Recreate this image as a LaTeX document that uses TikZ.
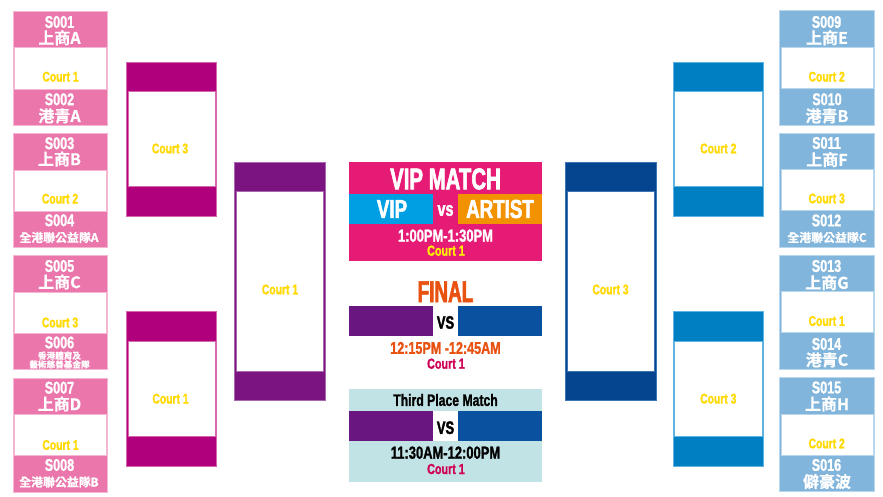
\documentclass[tikz,border=0pt]{standalone}
\usepackage{fontspec}
\setmainfont{Liberation Sans}
\newfontfamily\cond[FakeStretch=0.74,FakeBold=1.2]{Liberation Sans Bold}
\newfontfamily\condb[FakeStretch=0.72,FakeBold=2]{Liberation Sans Bold}
\newfontfamily\condvip[FakeStretch=0.68,FakeBold=2]{Liberation Sans Bold}
\newfontfamily\condfin[FakeStretch=0.63,FakeBold=2]{Liberation Sans Bold}
\newfontfamily\cjk[FakeBold=0.6]{Noto Sans CJK TC Bold}
\definecolor{pinkbox}{HTML}{EA76AB}
\definecolor{pinkedge}{HTML}{F4B6D2}
\definecolor{skybox}{HTML}{82B5DC}
\definecolor{skyedge}{HTML}{B8D6EC}
\definecolor{magbox}{HTML}{B0007B}
\definecolor{magedge}{HTML}{D565AE}
\definecolor{azbox}{HTML}{0080C3}
\definecolor{azedge}{HTML}{5DB3E2}
\definecolor{purbox}{HTML}{7B1480}
\definecolor{puredge}{HTML}{A768AE}
\definecolor{navbox}{HTML}{05458F}
\definecolor{navedge}{HTML}{3C74B4}
\definecolor{vippink}{HTML}{E61B75}
\definecolor{vipblue}{HTML}{009FE3}
\definecolor{viporange}{HTML}{F39200}
\definecolor{finpur}{HTML}{6A1680}
\definecolor{finblue}{HTML}{0A52A0}
\definecolor{teal}{HTML}{C2E3E6}
\definecolor{courty}{HTML}{FFD900}
\definecolor{redor}{HTML}{E8510F}
\definecolor{crim}{HTML}{CF0055}
\tikzset{
  txt/.style={inner sep=0pt,outer sep=0pt,anchor=center,align=center},
  code/.style={txt,text=white,font=\cond\fontsize{17}{17}\selectfont},
  team/.style={txt,text=white,font=\cjk\fontsize{16}{16}\selectfont},
  teamsm/.style={txt,text=white,font=\cjk\fontsize{11.9}{11.9}\selectfont},
  teamxs/.style={txt,text=white,font=\cjk\fontsize{8.6}{8.8}\selectfont},
  court/.style={txt,text=courty,font=\cond\fontsize{14}{14}\selectfont},
  big/.style={txt,font=\condvip\fontsize{30}{30}\selectfont},
  mid/.style={txt,font=\condb\fontsize{26}{26}\selectfont},
  versus/.style={txt,font=\condb\fontsize{18}{18}\selectfont},
  timing/.style={txt,font=\cond\fontsize{17.5}{17.5}\selectfont},
  cname/.style={txt,font=\cond\fontsize{14.5}{14.5}\selectfont},
}
% x1 y1 x2 y2 white-top white-bottom fill edge
\newcommand{\bracketbox}[8]{%
  \fill[#7] (#1,#2) rectangle (#3,#4);
  \draw[#8,line width=0.8pt] (#1,#2) rectangle (#3,#4);
  \path[fill=white,draw=#8,line width=0.8pt] ({#1+1.4},#5) rectangle ({#3-1.4},#6);
}
\begin{document}
\begin{tikzpicture}[x=1pt,y=-1pt]
\useasboundingbox (0,0) rectangle (883,496);
\fill[white] (0,0) rectangle (883,496);
% first round, left
\bracketbox{13}{11}{107.7}{125}{47.5}{89}{pinkbox}{pinkedge}
\bracketbox{13}{133.5}{107.7}{247.5}{170}{211}{pinkbox}{pinkedge}
\bracketbox{13}{255.7}{107.7}{369.7}{292}{333.7}{pinkbox}{pinkedge}
\bracketbox{13}{378}{107.7}{492}{414.7}{455.7}{pinkbox}{pinkedge}
% first round, right
\bracketbox{779.5}{10.7}{874.7}{125}{47}{88}{skybox}{skyedge}
\bracketbox{779.5}{133}{874.7}{247}{169.5}{210.5}{skybox}{skyedge}
\bracketbox{779.5}{255.3}{874.7}{369.5}{291.7}{332.7}{skybox}{skyedge}
\bracketbox{779.5}{377.5}{874.7}{491.5}{414}{455}{skybox}{skyedge}
% second round
\bracketbox{126.7}{62}{216.5}{216}{91.5}{186.5}{magbox}{magedge}
\bracketbox{126.7}{311.7}{216.5}{466}{341.5}{436.5}{magbox}{magedge}
\bracketbox{673}{62}{763.3}{216}{91.5}{186.5}{azbox}{azedge}
\bracketbox{673}{311.7}{763.3}{466}{341.5}{436.5}{azbox}{azedge}
% third round
\bracketbox{234.7}{162}{325}{400.5}{191.5}{371.5}{purbox}{puredge}
\bracketbox{565.5}{162}{656}{400.5}{191.5}{371.5}{navbox}{navedge}
% centre panels
\fill[vippink] (349.3,161.7) rectangle (542,261);
\fill[vipblue] (349.3,194) rectangle (433,224);
\fill[viporange] (458,194) rectangle (542,224);
\fill[finpur] (349.3,306) rectangle (433.3,336);
\fill[finblue] (458,306) rectangle (542,336);
\fill[teal] (349.3,388.5) rectangle (542,481.5);
\fill[white] (433.3,411) rectangle (458,441);
\fill[finpur] (349.3,411) rectangle (433.3,441);
\fill[finblue] (458,411) rectangle (542,441);
% left texts
\node[code] (s1) at (59.5,22) {S001};
\node[team] (t1) at (59.5,37.7) {上商A};
\node[court] (c1) at (60.5,76.7) {Court 1};
\node[code] (s2) at (59.5,99.3) {S002};
\node[team] (t2) at (59.5,116) {港青A};
\node[code] (s3) at (59.5,143.3) {S003};
\node[team] (t3) at (59.5,159) {上商B};
\node[court] (c2) at (60,198.7) {Court 2};
\node[code] (s4) at (59.5,220.3) {S004};
\node[teamsm] (t4) at (59,237.5) {全港聯公益隊A};
\node[code] (s5) at (59.5,266) {S005};
\node[team] (t5) at (59.5,282) {上商C};
\node[court] (c3) at (60,322.5) {Court 3};
\node[code] (s6) at (59.5,342.5) {S006};
\node[teamxs] (t6) at (59.5,360) {香港體育及\\藝術慈善基金隊};
\node[code] (s7) at (59.5,387.7) {S007};
\node[team] (t7) at (59.5,404) {上商D};
\node[court] (c4) at (60.5,445) {Court 1};
\node[code] (s8) at (59.5,465) {S008};
\node[teamsm] (t8) at (59,482) {全港聯公益隊B};
% right texts
\node[code] (s9) at (826.5,22) {S009};
\node[team] (t9) at (827,37.7) {上商E};
\node[court] (c5) at (826.7,76.7) {Court 2};
\node[code] (s10) at (827,99.3) {S010};
\node[team] (t10) at (827,116) {港青B};
\node[code] (s11) at (826.5,143) {S011};
\node[team] (t11) at (827,159.6) {上商F};
\node[court] (c6) at (826.7,198.5) {Court 3};
\node[code] (s12) at (826.5,220.5) {S012};
\node[teamsm] (t12) at (827,237.5) {全港聯公益隊C};
\node[code] (s13) at (826.5,266) {S013};
\node[team] (t13) at (827,282.6) {上商G};
\node[court] (c7) at (826.7,321) {Court 1};
\node[code] (s14) at (826.5,344) {S014};
\node[team] (t14) at (827,360) {港青C};
\node[code] (s15) at (826.5,387.5) {S015};
\node[team] (t15) at (827,404) {上商H};
\node[court] (c8) at (826.7,443.5) {Court 2};
\node[code] (s16) at (826.5,465) {S016};
\node[team] (t16) at (827,481.5) {僻豪波};
% later-round courts
\node[court] (q1) at (170,148.5) {Court 3};
\node[court] (q2) at (170.5,398.7) {Court 1};
\node[court] (q3) at (718.3,148.5) {Court 2};
\node[court] (q4) at (718.3,398.7) {Court 3};
\node[court] (r1) at (280,289.5) {Court 1};
\node[court] (r2) at (610.5,289.5) {Court 3};
% VIP
\node[big,text=white] (vm) at (445.5,179) {VIP MATCH};
\node[mid,text=white] (vv) at (392,209) {VIP};
\node[versus,text=white,font=\condb\fontsize{20}{20}\selectfont] (vs1) at (445.5,210.5) {vs};
\node[mid,text=white] (va) at (500,209) {ARTIST};
\node[timing,text=white] (vt) at (445.5,235.7) {1:00PM-1:30PM};
\node[cname,text=yellow] (vc) at (446,250.7) {Court 1};
% Final
\node[big,text=redor,font=\condfin\fontsize{30}{30}\selectfont] (fn) at (445.5,291.7) {FINAL};
\node[versus,text=black] (vs2) at (445.5,322.5) {VS};
\node[timing,text=redor,font=\cond\fontsize{17}{17}\selectfont] (ft) at (445.5,348) {12:15PM -12:45AM};
\node[cname,text=crim] (fc) at (446,363.7) {Court 1};
% Third
\node[timing,text=black,font=\cond\fontsize{16.5}{16.5}\selectfont] (tp) at (445.5,400) {Third Place Match};
\node[versus,text=black] (vs3) at (445.5,427.7) {VS};
\node[timing,text=black] (tt) at (445.5,452.7) {11:30AM-12:00PM};
\node[cname,text=crim] (tc) at (446,469) {Court 1};
\end{tikzpicture}
\end{document}
